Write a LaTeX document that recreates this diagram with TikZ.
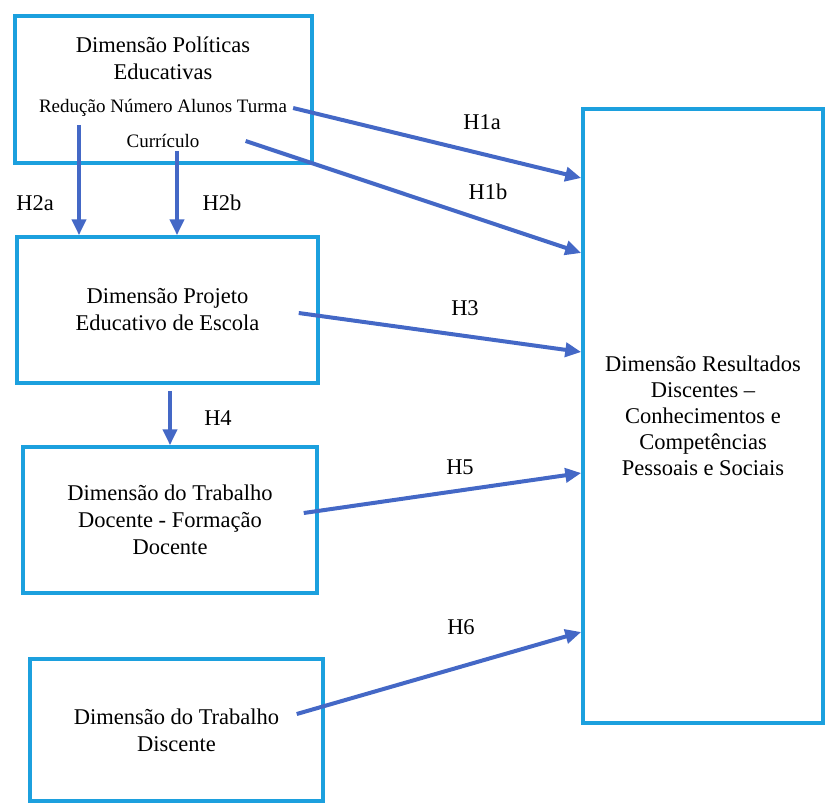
\documentclass[tikz,border=0pt]{standalone}
\usepackage{fontspec}
\setmainfont{Liberation Serif}
\usepackage{tikz}
\usetikzlibrary{positioning,arrows.meta,calc}
\definecolor{caixa}{RGB}{28,160,222}
\definecolor{seta}{RGB}{68,104,198}
\tikzset{
  dim/.style={draw=caixa,line width=3.5pt,align=center,inner sep=0pt,font=\fontsize{22.5}{27}\selectfont},
  hip/.style={draw=seta,line width=4pt,-{Triangle[length=16pt,width=14pt]}},
  rot/.style={font=\fontsize{22.5}{27}\selectfont},
  peq/.style={font=\fontsize{19}{22}\selectfont,inner sep=0pt}
}

\begin{document}
\begin{tikzpicture}[x=1pt,y=-1pt]
\useasboundingbox (0,0) rectangle (828,804);
% caixas
\node[dim,minimum width=297pt,minimum height=147pt] (pol) at (163.5,89.5) {};
\node[rot,align=center] (poltit) at (163,58) {Dimensão Políticas\\Educativas};
\node[peq] (reducao) at (163,108) {Redução Número Alunos Turma};
\node[peq] (curric) at (163,141) {Currículo};
\node[dim,minimum width=301pt,minimum height=146pt] (proj) at (167.5,310) {Dimensão Projeto\\Educativo de Escola};
\node[dim,minimum width=294pt,minimum height=146pt] (doc) at (170,520) {Dimensão do Trabalho\\Docente - Formação\\Docente};
\node[dim,minimum width=293pt,minimum height=142pt] (disc) at (176.5,730) {Dimensão do Trabalho\\Discente};
\node[dim,minimum width=240pt,minimum height=614pt,font=\fontsize{22.5}{26}\selectfont] (res) at (703,416) {Dimensão Resultados\\Discentes –\\Conhecimentos e\\Competências\\Pessoais e Sociais};
% hipoteses
\draw[hip] ([xshift=6pt]reducao.east) -- (res.west |- 0,178);
\draw[hip] ([xshift=46pt]curric.east) -- (res.west |- 0,253);
\draw[hip,shorten <=8pt] (reducao.south -| 79,0) -- (proj.north -| 79,0);
\draw[hip,shorten <=3pt] (curric.south -| 177,0) -- (proj.north -| 177,0);
\draw[hip] ([xshift=-21pt,yshift=-3pt]proj.east) -- (res.west |- 0,352);
\draw[hip,shorten <=6pt] (proj.south -| doc.north) -- (doc.north);
\draw[hip] ([xshift=-15pt,yshift=7pt]doc.east) -- (res.west |- 0,473);
\draw[hip] ([xshift=-28pt,yshift=16pt]disc.east) -- (res.west |- 0,632);
% rotulos
\node[rot] (h1a) at (482,122) {H1a};
\node[rot] (h1b) at (488,192) {H1b};
\node[rot] (h2a) at (35,203) {H2a};
\node[rot] (h2b) at (222,203) {H2b};
\node[rot] (h3) at (465,308) {H3};
\node[rot] (h4) at (218,418) {H4};
\node[rot] (h5) at (460,467) {H5};
\node[rot] (h6) at (461,627) {H6};
\end{tikzpicture}
\end{document}
